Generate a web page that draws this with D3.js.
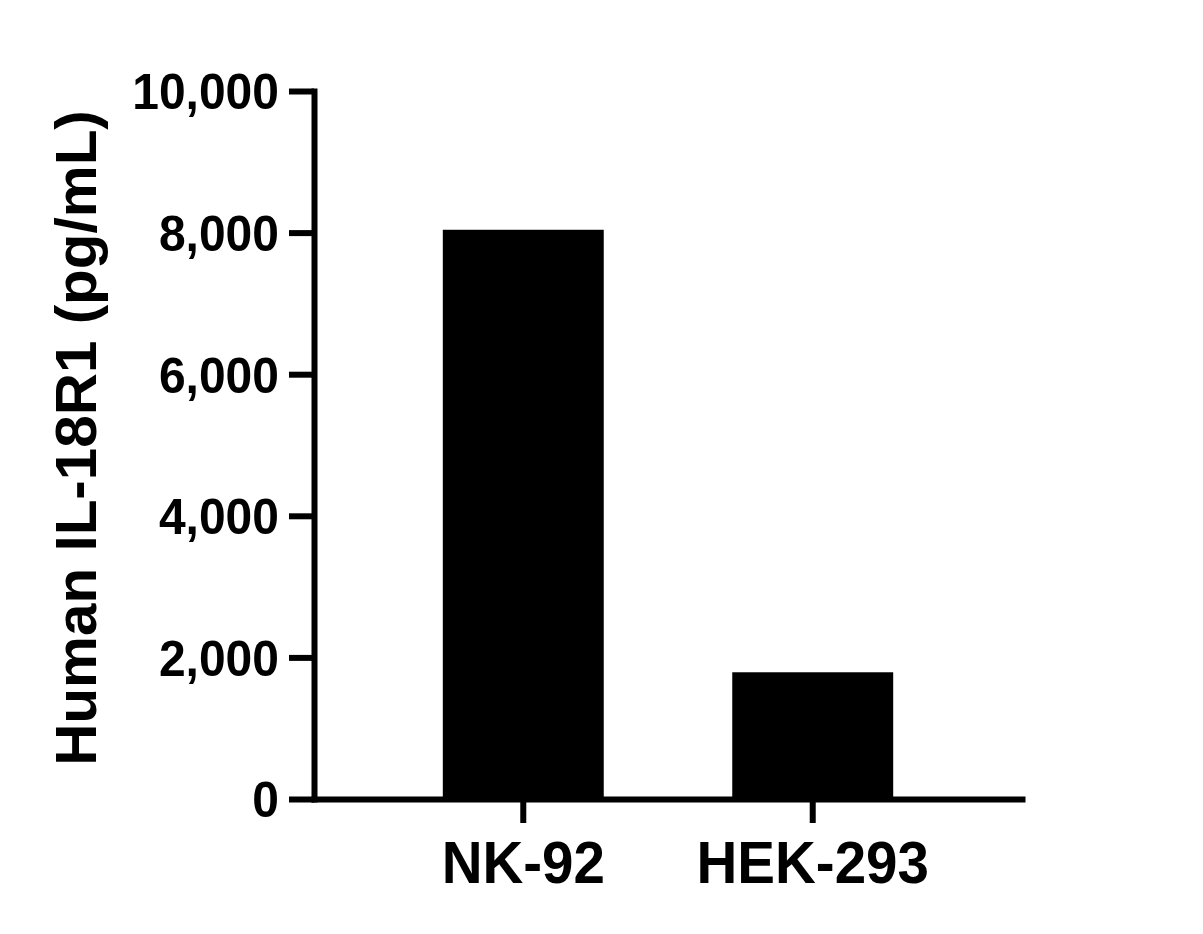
<!DOCTYPE html>
<html>
<head>
<meta charset="utf-8">
<script src="https://cdn.jsdelivr.net/npm/d3@7"></script>
<style>
  body { margin: 0; background: #fff; }
  text { font-family: "Liberation Sans", Arial, sans-serif; font-weight: bold; fill: #000; }
</style>
</head>
<body>
<svg></svg>
<script>
var width = 1203;
var height = 934;

// data
var categories = ['NK-92', 'HEK-293'];
var values = [8040, 1790];
var yTicks = [0, 2000, 4000, 6000, 8000, 10000];
var yTitle = 'Human IL-18R1 (pg/mL)';

var svg = d3.select('svg')
    .attr('width', width)
    .attr('height', height);

var x = d3.scaleBand()
    .domain(categories)
    .range([314, 1022])
    .paddingInner(0.444)
    .paddingOuter(0.445);

var y = d3.scaleLinear()
    .domain([0, 10000])
    .range([799, 91]);

// bars
svg.selectAll('rect.bar')
    .data(values)
    .enter()
    .append('rect')
    .attr('class', 'bar')
    .attr('x', function(d, i){ return x(categories[i]); })
    .attr('width', x.bandwidth())
    .attr('y', function(d){ return y(d); })
    .attr('height', function(d){ return y(0) - y(d); })
    .style('fill', '#000');

// y axis
var yAxis = svg.append('g')
    .attr('transform', 'translate(314,0)')
    .call(d3.axisLeft(y)
        .tickValues(yTicks)
        .tickFormat(d3.format(','))
        .tickSize(25)
        .tickSizeOuter(0)
        .tickPadding(10));

yAxis.select('.domain')
    .attr('stroke', '#000')
    .attr('stroke-width', 6)
    .attr('stroke-linecap', 'square');
yAxis.selectAll('.tick line')
    .attr('stroke', '#000')
    .attr('stroke-width', 6);
// the original lettering is a little taller than Arial, stretch it a bit
yAxis.selectAll('.tick text')
    .attr('font-size', 48)
    .attr('font-family', '"Liberation Sans", Arial, sans-serif')
    .attr('font-weight', 'bold')
    .attr('dy', '0.36em')
    .attr('transform', 'scale(1,1.03)');

// x axis
var xAxis = svg.append('g')
    .attr('transform', 'translate(0,799)')
    .call(d3.axisBottom(x)
        .tickSize(24)
        .tickSizeOuter(0)
        .tickPadding(10));

xAxis.select('.domain')
    .attr('stroke', '#000')
    .attr('stroke-width', 6)
    .attr('stroke-linecap', 'square');
xAxis.selectAll('.tick line')
    .attr('stroke', '#000')
    .attr('stroke-width', 6);
xAxis.selectAll('.tick text')
    .attr('font-size', 56.5)
    .attr('font-family', '"Liberation Sans", Arial, sans-serif')
    .attr('font-weight', 'bold')
    .attr('y', 81)
    .attr('dy', 0)
    .attr('transform', 'scale(1,1.04)');

// y title
svg.append('text')
    .attr('transform', 'translate(96,438) rotate(-90) scale(1.025,1)')
    .attr('text-anchor', 'middle')
    .attr('font-size', 57)
    .text(yTitle);
</script>
</body>
</html>
